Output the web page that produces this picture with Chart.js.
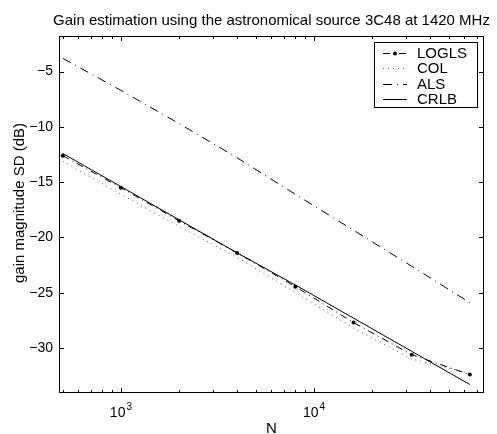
<!DOCTYPE html>
<html>
<head>
<meta charset="utf-8">
<script src="https://cdn.jsdelivr.net/npm/chart.js@4/dist/chart.umd.min.js"></script>
<style>
  html, body { margin: 0; padding: 0; background: #fff; }
  canvas { display: block; }
</style>
</head>
<body>
<canvas id="gainChart" width="497" height="434"></canvas>
<script>
// Sample sizes (x axis, log scale)
const sampleSizes = [500, 1000, 2000, 4000, 8000, 16000, 32000, 64000];

// gain magnitude SD in dB, one array per estimator
const loglsValues = [-12.6, -15.5, -18.5, -21.4, -24.45, -27.7, -30.6, -32.4];
const colValues   = [-13.1, -16.1, -19.0, -21.8, -25.0, -28.2, -31.0, -32.3];
const alsValues   = [-3.8, -6.7, -9.7, -12.8, -16.1, -19.35, -22.6, -25.9];
const crlbValues  = [-12.4, -15.4, -18.4, -21.4, -24.3, -27.3, -30.3, -33.3];

const seriesNames = ['LOGLS', 'COL', 'ALS', 'CRLB'];
const yTickValues = [-30, -25, -20, -15, -10, -5];
const xMajorTicks = [1000, 10000];
const xMinorTicks = [500, 600, 700, 800, 900, 2000, 3000, 4000, 5000, 6000, 7000, 8000, 9000,
  20000, 30000, 40000, 50000, 60000, 70000];

const titleText = 'Gain estimation using the astronomical source 3C48 at 1420 MHz';
const xTitle = 'N';
const yTitle = 'gain magnitude SD (dB)';

const FONT = '"Liberation Sans", Arial, Helvetica, sans-serif';

function toPoints(values) {
  return sampleSizes.map((n, i) => ({ x: n, y: values[i] }));
}

// Line styles, roughly matching MATLAB's print output
const styles = [
  { dash: [7, 4, 1, 4], color: '#000', radius: 2 },   // LOGLS  -.  with dots
  { dash: [1, 4], color: '#555', radius: 0 },         // COL    :
  { dash: [9, 5, 1, 5], color: '#000', radius: 0 },   // ALS    -.
  { dash: [], color: '#000', radius: 0 }              // CRLB   solid
];

const allValues = [loglsValues, colValues, alsValues, crlbValues];

const datasets = allValues.map((vals, i) => ({
  label: seriesNames[i],
  data: toPoints(vals),
  borderColor: styles[i].color,
  backgroundColor: styles[i].color,
  borderWidth: 1,
  borderDash: styles[i].dash,
  pointRadius: styles[i].radius,
  pointBorderWidth: 0,
  pointBackgroundColor: '#000',
  tension: 0,
  fill: false
}));

// Draws the MATLAB style frame: box, inward ticks, titles, x labels, legend
const matlabFrame = {
  id: 'matlabFrame',
  beforeDraw(chart) {
    const ctx = chart.ctx;
    ctx.save();
    ctx.fillStyle = '#fff';
    ctx.fillRect(0, 0, chart.width, chart.height);
    ctx.restore();
  },
  afterDraw(chart) {
    const ctx = chart.ctx;
    const area = chart.chartArea;
    const xs = chart.scales.x;
    const ys = chart.scales.y;

    ctx.save();
    ctx.strokeStyle = '#000';
    ctx.lineWidth = 1;
    ctx.setLineDash([]);

    // axes box
    ctx.strokeRect(Math.round(area.left) + 0.5, Math.round(area.top) + 0.5,
      Math.round(area.right - area.left) - 1, Math.round(area.bottom - area.top) - 1);

    ctx.beginPath();
    // x ticks, bottom and top
    const tick = (v, len) => {
      const px = Math.round(xs.getPixelForValue(v)) + 0.5;
      ctx.moveTo(px, area.bottom);
      ctx.lineTo(px, area.bottom - len);
      ctx.moveTo(px, area.top);
      ctx.lineTo(px, area.top + len);
    };
    xMajorTicks.forEach(v => tick(v, 5));
    xMinorTicks.forEach(v => tick(v, 3));
    // y ticks, left and right
    yTickValues.forEach(v => {
      const py = Math.round(ys.getPixelForValue(v)) + 0.5;
      ctx.moveTo(area.left, py);
      ctx.lineTo(area.left + 5, py);
      ctx.moveTo(area.right, py);
      ctx.lineTo(area.right - 5, py);
    });
    ctx.stroke();

    ctx.fillStyle = '#000';

    // x tick labels as 10^k
    xMajorTicks.forEach(v => {
      const px = xs.getPixelForValue(v);
      const exp = String(Math.round(Math.log10(v)));
      ctx.font = '14px ' + FONT;
      const wBase = ctx.measureText('10').width;
      ctx.font = '10px ' + FONT;
      const wExp = ctx.measureText(exp).width;
      const start = px - (wBase + wExp + 1) / 2;
      ctx.textAlign = 'left';
      ctx.textBaseline = 'alphabetic';
      ctx.font = '14px ' + FONT;
      ctx.fillText('10', start, 417);
      ctx.font = '10px ' + FONT;
      ctx.fillText(exp, start + wBase + 1, 410);
    });

    // title
    ctx.font = '15px ' + FONT;
    ctx.textAlign = 'center';
    ctx.textBaseline = 'alphabetic';
    ctx.fillText(titleText, 271.5, 25);

    // x axis title
    ctx.fillText(xTitle, (area.left + area.right) / 2, 433);

    // y axis title
    ctx.save();
    ctx.translate(24, 203);
    ctx.rotate(-Math.PI / 2);
    ctx.textAlign = 'center';
    ctx.fillText(yTitle, 0, 0);
    ctx.restore();

    // legend box
    const box = { left: 374, top: 42, right: 477, bottom: 107 };
    ctx.fillStyle = '#fff';
    ctx.fillRect(box.left, box.top, box.right - box.left, box.bottom - box.top);
    ctx.strokeStyle = '#000';
    ctx.strokeRect(box.left + 0.5, box.top + 0.5, box.right - box.left, box.bottom - box.top);

    const rowY = [53, 68.3, 83.6, 99];
    ctx.font = '15px ' + FONT;
    ctx.textAlign = 'left';
    ctx.textBaseline = 'middle';
    seriesNames.forEach((name, i) => {
      const y = Math.round(rowY[i]) + 0.5;
      ctx.strokeStyle = styles[i].color;
      ctx.setLineDash(styles[i].dash.length ? styles[i].dash : []);
      ctx.beginPath();
      ctx.moveTo(383, y);
      ctx.lineTo(407, y);
      ctx.stroke();
      if (styles[i].radius) {
        ctx.setLineDash([]);
        ctx.fillStyle = '#000';
        ctx.beginPath();
        ctx.arc(395, y, styles[i].radius, 0, Math.PI * 2);
        ctx.fill();
      }
      ctx.fillStyle = '#000';
      ctx.fillText(name, 417, rowY[i] + 1);
    });

    ctx.restore();
  }
};

new Chart(document.getElementById('gainChart'), {
  type: 'line',
  data: { datasets: datasets },
  plugins: [matlabFrame],
  options: {
    responsive: false,
    animation: false,
    events: [],
    layout: { padding: { top: 36, right: 13, bottom: 0, left: 0 } },
    plugins: {
      legend: { display: false },
      title: { display: false },
      tooltip: { enabled: false }
    },
    scales: {
      x: {
        type: 'logarithmic',
        min: 478,
        max: 75770,
        grid: { display: false, drawTicks: false },
        border: { display: false },
        ticks: { display: false },
        afterFit: scale => { scale.height = 41; }
      },
      y: {
        type: 'linear',
        min: -34.07,
        max: -1.78,
        grid: { display: false, drawTicks: false },
        border: { display: false },
        afterBuildTicks: scale => {
          scale.ticks = yTickValues.map(v => ({ value: v }));
        },
        ticks: {
          padding: 6,
          color: '#000',
          font: { family: FONT, size: 14 },
          callback: v => String(v).replace('-', '\u2212')
        },
        afterFit: scale => { scale.width = 59; }
      }
    }
  }
});
</script>
</body>
</html>
